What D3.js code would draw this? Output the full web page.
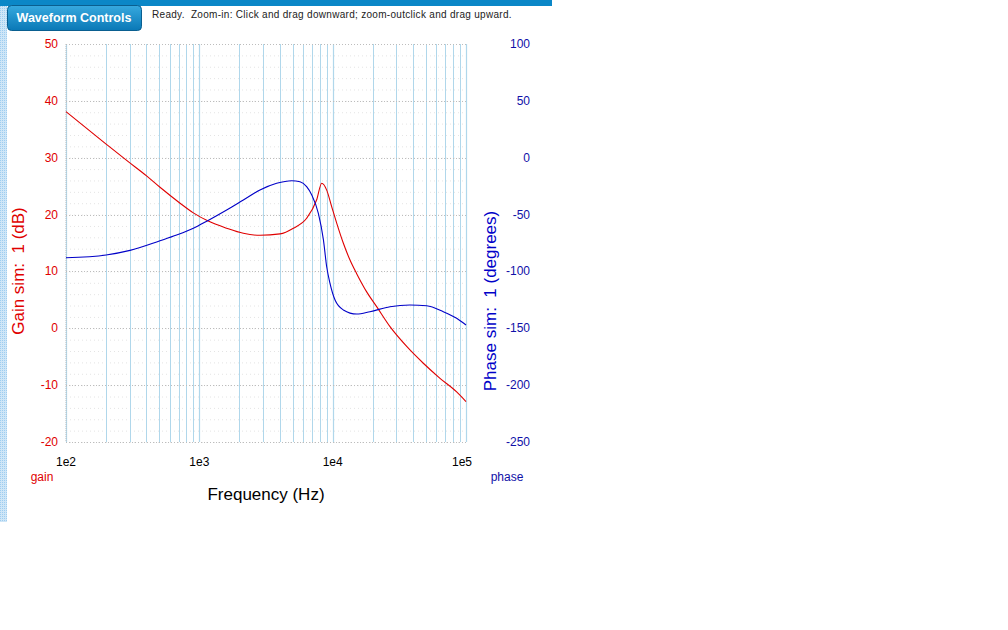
<!DOCTYPE html>
<html><head><meta charset="utf-8">
<script src="https://cdn.jsdelivr.net/npm/d3@7/dist/d3.min.js"></script>
<style>
body{margin:0;background:#fff;font-family:Arial,"Liberation Sans",sans-serif;}
svg{display:block;}
</style></head>
<body>
<svg id="c" width="1008" height="630"></svg>
<script>
// ---- data ----
const gainFreq = [100,200,293,402,507,717,902,1155,1603,2138,2850,4030,5070,6380,7590,8280,9020,9830,10720,12030,13490,15140,17990,21380,26920,35910,47860,63830,85110,100000];
const gainDb   = [38.1,32.4,29.3,26.8,24.8,22.0,20.3,18.9,17.6,16.7,16.35,16.6,17.6,19.35,22.6,25.5,24.3,21.4,18.5,14.95,12.0,9.6,6.4,3.8,0.28,-3.2,-6.15,-8.8,-11.2,-12.9];
const phaseFreq = [100,200,302,507,676,902,1155,1603,2138,2850,3800,4930,5690,6380,6970,7810,8520,9020,9550,10420,12030,15140,19050,26920,38020,50700,67600,85110,100000];
const phaseDeg  = [-88,-85.5,-81.5,-73,-68,-62.1,-55.4,-46,-37.2,-28.4,-22.5,-20.2,-21.1,-25.5,-32.8,-48.9,-72,-95.9,-110.5,-125.2,-133.9,-137.5,-135.4,-131,-129.5,-130.2,-135.4,-141.2,-147.1];
const xTicks = [100,1000,10000,100000];
const xTickLabels = ["1e2","1e3","1e4","1e5"];
const gainTicks = [50,40,30,20,10,0,-10,-20];
const phaseTicks = [100,50,0,-50,-100,-150,-200,-250];

const red = "#e00000", blue = "#0000c8";
const svg = d3.select("#c");
const L = 66, R = 466, T = 44, B = 442;
const x = d3.scaleLog().domain([100,100000]).range([L,R]);
const yG = d3.scaleLinear().domain([-20,50]).range([B,T]);
const yP = d3.scaleLinear().domain([-250,100]).range([B,T]);

// page frame
const defs = svg.append("defs");
const pat = defs.append("pattern").attr("id","dots").attr("width",2).attr("height",2).attr("patternUnits","userSpaceOnUse");
pat.append("rect").attr("width",2).attr("height",2).attr("fill","#cfe6f7");
pat.append("rect").attr("width",1).attr("height",1).attr("fill","#9fcdf0");
svg.append("rect").attr("x",0).attr("y",0).attr("width",7).attr("height",522).attr("fill","url(#dots)");
svg.append("rect").attr("x",0).attr("y",0).attr("width",552).attr("height",6).attr("fill","#0b87c7");

const grad = defs.append("linearGradient").attr("id","btn").attr("x1",0).attr("x2",0).attr("y1",0).attr("y2",1);
grad.append("stop").attr("offset","0%").attr("stop-color","#37a9df");
grad.append("stop").attr("offset","100%").attr("stop-color","#0a78b6");
svg.append("rect").attr("x",7.5).attr("y",5.5).attr("width",134).attr("height",25).attr("rx",4)
  .attr("fill","url(#btn)").attr("stroke","#0a5f90");
svg.append("text").attr("x",74).attr("y",22).attr("text-anchor","middle")
  .attr("font-size",12.5).attr("font-weight","bold").attr("fill","#fff").text("Waveform Controls");
svg.append("text").attr("x",152).attr("y",18).attr("font-size",10).attr("letter-spacing",0.3).attr("fill","#222")
  .attr("xml:space","preserve").text("Ready.  Zoom-in: Click and drag downward; zoom-outclick and drag upward.");

// grid
const g = svg.append("g");
d3.range(-20,50,2).forEach(v=>{
  g.append("line").attr("x1",L).attr("x2",R).attr("y1",yG(v)+0.5).attr("y2",yG(v)+0.5)
   .attr("stroke","#e4e4e4").attr("stroke-dasharray","1,3");
});
const minor = [];
for (let d=100; d<100000; d*=10) for (let k=1;k<10;k++) minor.push(d*k);
minor.push(100000);
g.selectAll("line.v").data(minor).enter().append("line")
  .attr("x1",d=>Math.round(x(d))+0.5).attr("x2",d=>Math.round(x(d))+0.5).attr("y1",T).attr("y2",B)
  .attr("stroke","#b0d7eb").attr("stroke-width",d=>xTicks.includes(d)?1.2:1);
g.selectAll("line.h").data(gainTicks).enter().append("line")
  .attr("x1",L).attr("x2",R).attr("y1",d=>Math.round(yG(d))+0.5).attr("y2",d=>Math.round(yG(d))+0.5)
  .attr("stroke","#bdbdbd").attr("stroke-dasharray","1,2");
g.append("line").attr("x1",L).attr("x2",L).attr("y1",T).attr("y2",B).attr("stroke","#bdbdbd").attr("stroke-dasharray","1,1");

// curves
const lineG = d3.line().x((d,i)=>x(gainFreq[i])).y(d=>yG(d)).curve(d3.curveMonotoneX);
const lineP = d3.line().x((d,i)=>x(phaseFreq[i])).y(d=>yP(d)).curve(d3.curveMonotoneX);
svg.append("path").attr("d",lineG(gainDb)).attr("fill","none").attr("stroke",red).attr("stroke-width",1.1);
svg.append("path").attr("d",lineP(phaseDeg)).attr("fill","none").attr("stroke",blue).attr("stroke-width",1.1);

// axes labels
svg.selectAll("text.gt").data(gainTicks).enter().append("text")
  .attr("x",58).attr("y",d=>yG(d)+4).attr("text-anchor","end").attr("font-size",12).attr("fill",red).text(d=>d);
svg.selectAll("text.pt").data(phaseTicks).enter().append("text")
  .attr("x",530).attr("y",d=>yP(d)+4).attr("text-anchor","end").attr("font-size",12).attr("fill","#1010a8").text(d=>d);
svg.selectAll("text.xt").data(xTicks).enter().append("text")
  .attr("x",(d,i)=>x(d)-(i===3?4:0)).attr("y",466).attr("text-anchor","middle").attr("font-size",12).attr("fill","#000")
  .text((d,i)=>xTickLabels[i]);
svg.append("text").attr("x",42).attr("y",481).attr("text-anchor","middle").attr("font-size",12).attr("fill",red).text("gain");
svg.append("text").attr("x",507).attr("y",481).attr("text-anchor","middle").attr("font-size",12).attr("fill","#1010a8").text("phase");
svg.append("text").attr("x",266).attr("y",500).attr("text-anchor","middle").attr("font-size",17).attr("fill","#000").text("Frequency (Hz)");
svg.append("text").attr("transform","translate(24,271) rotate(-90)").attr("text-anchor","middle")
  .attr("font-size",17).attr("fill",red).attr("xml:space","preserve").text("Gain sim:  1 (dB)");
svg.append("text").attr("transform","translate(496,301) rotate(-90)").attr("text-anchor","middle")
  .attr("font-size",17).attr("fill",blue).attr("xml:space","preserve").text("Phase sim:  1 (degrees)");
</script>
</body></html>
